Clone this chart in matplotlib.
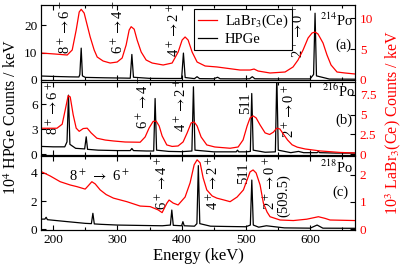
import matplotlib
matplotlib.use("Agg")
import matplotlib.pyplot as plt
from matplotlib.ticker import MultipleLocator

plt.rcParams['font.family'] = ['Liberation Serif', 'DejaVu Serif']
plt.rcParams['mathtext.fontset'] = 'stix'

# ---------------- data ----------------
# Panel (a) 214Po
a_ge_E = [181, 200, 225, 240, 241.5, 243.6, 245.5, 250, 280, 310, 320, 322.5, 325, 350, 380, 400, 402.8, 405.5,
          420, 424, 428, 450, 456, 460, 490, 506, 510, 514, 540, 570, 600, 605.5, 607.8, 610, 630, 670]
a_ge_v = [1.45, 1.3, 1.15, 1.1, 2.0, 11.6, 1.5, 0.95, 0.8, 0.7, 0.65, 9.3, 1.0, 0.6, 0.55, 0.55, 9.8, 0.9,
          0.5, 1.2, 0.5, 0.45, 1.0, 0.45, 0.4, 0.45, 1.2, 0.45, 0.4, 0.4, 0.4, 2.0, 24.3, 1.5, 0.35, 0.3]
a_la_E = [181.3, 203.1, 221.8, 229.6, 235.8, 240.5, 243.6, 248.2, 252.9, 257.6, 263.8, 268.5, 277.8, 288.7,
          299.6, 307.4, 313.6, 318.3, 321.4, 326.1, 330.7, 337.0, 344.7, 354.1, 371.2, 385.2, 394.6, 400.8,
          405.4, 410.1, 416.3, 424.1, 436.6, 455.3, 491.0, 506.6, 512.8, 519.1, 537.7, 561.1, 573.5, 581.3,
          589.1, 596.9, 603.1, 607.8, 612.4, 620.2, 626.4, 632.7, 642.0, 654.5, 670.0]
a_la_v = [4.35, 4.19, 4.03, 4.84, 8.06, 10.97, 11.4, 10.8, 8.87, 6.94, 4.84, 3.71, 3.06, 2.74,
          2.9, 3.55, 5.65, 8.06, 8.6, 8.2, 6.45, 4.52, 3.23, 2.74, 2.42, 2.74, 4.52, 6.45,
          6.94, 6.45, 4.52, 2.9, 2.26, 2.1, 1.61, 1.61, 1.77, 1.45, 1.13, 1.29, 2.1, 3.23,
          4.84, 6.77, 7.58, 7.74, 7.42, 5.97, 4.03, 2.42, 1.29, 1.13, 0.97]

# Panel (b) 216Po
b_ge_E = [181, 200, 218, 221.5, 223.8, 226, 235, 249, 251.4, 253.5, 270, 300, 320, 322.5, 325, 345, 356.5,
          358.7, 361, 380, 400, 416, 418.4, 420.8, 450, 485, 487, 489, 500, 507, 509.2, 511.5, 530, 546,
          548.2, 550.5, 570, 582, 590, 611, 613, 615, 640, 670]
b_ge_v = [0.95, 0.9, 0.9, 1.5, 7.1, 1.2, 0.72, 0.65, 2.1, 0.6, 0.5, 0.45, 0.45, 0.7, 0.45, 0.4, 0.4,
          6.7, 0.5, 0.35, 0.32, 0.4, 8.1, 0.5, 0.3, 0.3, 0.5, 0.3, 0.3, 0.35, 7.3, 0.5, 0.25, 0.3,
          9.5, 0.5, 0.2, 0.35, 0.2, 0.2, 0.35, 0.2, 0.15, 0.15]
b_la_E = [181.3, 205.8, 214.0, 218.7, 223.3, 226.5, 231.1, 235.8, 240.5, 246.7, 252.9, 259.1, 268.0, 281.0,
          293.8, 312.0, 335.4, 343.2, 349.4, 355.6, 360.3, 365.0, 369.6, 376.9, 385.2, 394.5, 402.3, 408.6,
          414.8, 419.5, 424.1, 430.3, 439.2, 451.7, 475.5, 488.0, 495.7, 502.0, 506.6, 511.3, 516.0, 522.2,
          530.0, 537.0, 543.0, 548.0, 553.0, 558.0, 565.0, 572.0, 580.0, 592.2, 615.6, 646.7, 670.0]
b_la_v = [3.29, 3.29, 3.8, 5.6, 7.4, 7.25, 5.0, 3.3, 2.9, 3.25, 3.3, 2.7, 2.03, 1.8,
          1.68, 1.55, 1.52, 2.19, 3.33, 4.15, 4.2, 3.58, 2.32, 1.18, 0.99, 1.05, 1.56, 2.7,
          3.96, 4.09, 3.58, 2.19, 1.18, 0.92, 0.76, 0.92, 1.81, 3.58, 4.6, 4.85, 4.6, 3.7,
          2.7, 2.5, 2.8, 3.3, 3.2, 2.6, 1.8, 1.2, 0.9, 0.67, 0.42, 0.23, 0.16]

# Panel (c) 218Po
c_ge_E = [181, 187, 189, 191, 220, 250, 259.5, 261.8, 264, 275, 300, 340, 370, 382.5, 384.7, 387, 400, 402,
          404, 420, 423.8, 426, 428.3, 445, 470, 500, 507, 509.3, 511.6, 520, 532, 560, 600, 611, 620, 670]
c_ge_v = [0.72, 0.72, 0.85, 0.68, 0.55, 0.42, 0.4, 1.13, 0.38, 0.35, 0.3, 0.27, 0.25, 0.3, 1.36, 0.28, 0.25,
          0.54, 0.25, 0.22, 0.4, 4.5, 0.4, 0.22, 0.2, 0.18, 0.3, 3.48, 0.3, 0.15, 0.25, 0.1, 0.08, 0.3, 0.08, 0.07]
c_la_E = [181.3, 195.3, 210.9, 226.5, 236.9, 249.8, 254.5, 260.2, 265.4, 273.2, 282.5, 293.8, 314.7, 335.4,
          351.0, 363.4, 369.6, 376.9, 380.5, 386.8, 394.5, 405.4, 413.2, 419.5, 424.1, 428.8, 433.5, 439.2,
          447.5, 454.8, 466.2, 475.5, 486.4, 496.2, 502.0, 506.6, 511.3, 516.0, 522.2, 527.4, 533.1, 537.7,
          553.3, 574.0, 594.9, 613.0, 623.3, 631.1, 670.0]
c_la_v = [2.11, 1.95, 1.74, 1.62, 1.56, 1.47, 1.59, 1.74, 1.66, 1.44, 1.27, 1.14, 1.01, 0.85,
          0.83, 0.71, 0.61, 0.95, 1.07, 0.96, 0.89, 1.18, 1.7, 2.36, 2.54, 2.43, 1.88, 1.44,
          1.22, 1.14, 1.07, 1.01, 1.18, 1.44, 1.81, 2.1, 2.17, 2.06, 1.62, 0.95, 0.63, 0.46,
          0.34, 0.32, 0.37, 0.46, 0.4, 0.34, 0.32]

x_ticks = [200, 300, 400, 500, 600]
left_ticks = [[0, 10, 20], [0, 3, 6], [0, 2, 4]]
right_ticks = [[0, 5, 10], [0, 2.5, 5, 7.5], [0, 1, 2]]
right_labels = [["0", "5", "10"], ["0", "2.5", "5", "7.5"], ["0", "1", "2"]]

RED = '#ff0000'
W, H = 407, 266
fig = plt.figure(figsize=(W / 100, H / 100), dpi=100)

def box(top, bot):
    return [41 / W, 1 - bot / H, (355 - 41) / W, (bot - top) / H]

axes = [fig.add_axes(box(5, 80)), fig.add_axes(box(81.5, 154.5)), fig.add_axes(box(156, 229.5))]
ylims_l = [(0, 27.3), (-0.02, 8.74), (-0.014, 5.18)]
ylims_r = [(0, 12.1), (-0.03, 9.2), (-0.007, 2.68)]
data = [(a_ge_E, a_ge_v, a_la_E, a_la_v), (b_ge_E, b_ge_v, b_la_E, b_la_v), (c_ge_E, c_ge_v, c_la_E, c_la_v)]

for i, ax in enumerate(axes):
    gE, gv, lE, lv = data[i]
    l1, = ax.plot(gE, gv, color='black', lw=0.9)
    ax.set_xlim(181, 670)
    ax.set_ylim(*ylims_l[i])
    ax.set_yticks(left_ticks[i])
    ax.set_xticks(x_ticks)
    ax.xaxis.set_minor_locator(MultipleLocator(50))
    ax.tick_params(axis='both', which='both', direction='in', top=True, labelsize=9.5, width=0.8)
    ax.tick_params(axis='both', which='major', length=3.5)
    ax.tick_params(axis='both', which='minor', length=2)
    ax.tick_params(axis='y', pad=2.5)
    if i < 2:
        ax.tick_params(axis='x', labelbottom=False)
    tw = ax.twinx()
    l2, = tw.plot(lE, lv, color=RED, lw=0.9)
    tw.set_xlim(181, 670)
    tw.set_ylim(*ylims_r[i])
    tw.set_yticks(right_ticks[i])
    tw.set_yticklabels(right_labels[i])
    tw.tick_params(axis='y', direction='in', labelsize=9.5, labelcolor=RED, length=3.5, width=0.8)
    if i == 0:
        leg = ax.legend([l2, l1], ['LaBr$_3$(Ce)', 'HPGe'], loc='upper left',
                        bbox_to_anchor=(0.487, 0.95), fontsize=10.5, frameon=True, fancybox=False,
                        edgecolor='black', framealpha=1, handlelength=1.3, handletextpad=0.5,
                        borderpad=0.3, labelspacing=0.15, borderaxespad=0)
        leg.get_frame().set_linewidth(0.8)

axes[2].set_xlabel('Energy (keV)', fontsize=12, labelpad=1)

fs = 10.5
ar = r'$\rightarrow$'
A, B, C = axes
A.text(218.7, 19.3, '8$^+$' + ar + '6$^+$', rotation=90, ha='center', va='center', fontsize=fs)
A.text(302, 19.1, '6$^+$' + ar + '4$^+$', rotation=90, ha='center', va='center', fontsize=fs)
A.text(388.3, 18.2, '4$^+$' + ar + '2$^+$', rotation=90, ha='center', va='center', fontsize=fs)
A.text(581.3, 17.8, '2$^+$' + ar + '0$^+$', rotation=90, ha='center', va='center', fontsize=fs)
A.text(640.5, 21.8, '$^{214}$Po', ha='center', va='center', fontsize=fs)
A.text(651.3, 12.7, '(a)', ha='center', va='center', fontsize=fs)

B.text(200.5, 5.55, '8$^+$' + ar + '6$^+$', rotation=90, ha='center', va='center', fontsize=fs)
B.text(340.5, 6.2, '6$^+$' + ar + '4$^+$', rotation=90, ha='center', va='center', fontsize=fs)
B.text(400.3, 5.9, '4$^+$' + ar + '2$^+$', rotation=90, ha='center', va='center', fontsize=fs)
B.text(498.8, 6.15, '511', rotation=90, ha='center', va='center', fontsize=fs)
B.text(567.3, 5.14, '2$^+$' + ar + '0$^+$', rotation=90, ha='center', va='center', fontsize=fs)
B.text(645, 7.6, '$^{216}$Po', ha='center', va='center', fontsize=fs)
B.text(652.9, 4.1, '(b)', ha='center', va='center', fontsize=fs)

C.text(271.6, 3.76, '8$^+$ ' + ar + ' 6$^+$', ha='center', va='center', fontsize=fs)
C.text(370.4, 3.27, '6$^+$' + ar + '4$^+$', rotation=90, ha='center', va='center', fontsize=fs)
C.text(449.5, 3.27, '4$^+$' + ar + '2$^+$', rotation=90, ha='center', va='center', fontsize=fs)
C.text(495.7, 3.98, '511', rotation=90, ha='center', va='center', fontsize=fs)
C.text(538, 3.26, '2$^+$' + ar + '0$^+$', rotation=90, ha='center', va='center', fontsize=fs)
C.text(559, 2.4, '(509.5)', rotation=90, ha='center', va='center', fontsize=fs)
C.text(642, 4.4, '$^{218}$Po', ha='center', va='center', fontsize=fs)
C.text(646.7, 2.6, '(c)', ha='center', va='center', fontsize=fs)

fig.text(12 / W, 1 - 117 / H, '10$^4$ HPGe Counts / keV', rotation=90, ha='center', va='center', fontsize=11.5)
fig.text(393 / W, 1 - 123 / H, '10$^3$ LaBr$_3$(Ce) Counts / keV', rotation=90, ha='center', va='center',
         fontsize=11.5, color=RED)

fig.savefig('out.png', dpi=100)
